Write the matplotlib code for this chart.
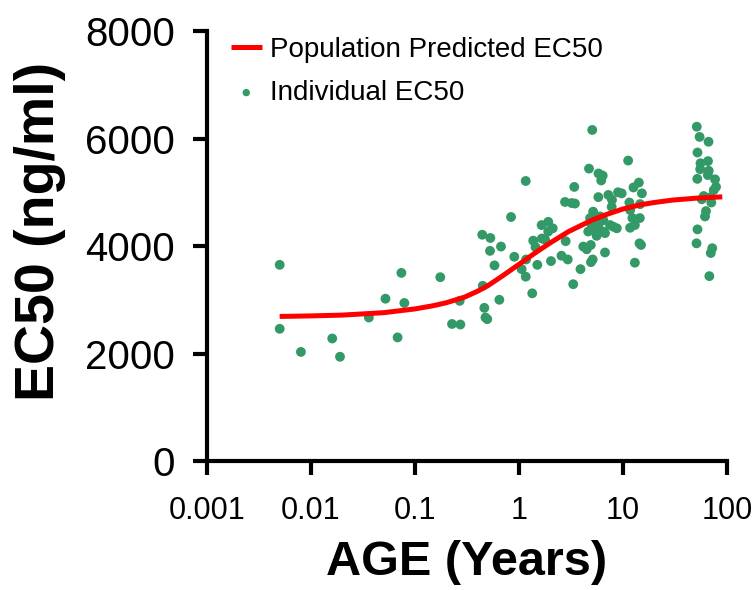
import matplotlib
matplotlib.use("Agg")
import matplotlib.pyplot as plt

plt.rcParams['font.family'] = ['Liberation Sans', 'DejaVu Sans']

# individual EC50 estimates (age in years, EC50 in ng/ml)
age = [0.0050, 0.0050, 0.0080, 0.0160, 0.0190, 0.036, 0.052, 0.074, 0.068, 0.079,
       0.175, 0.269, 0.227, 0.273,
       0.443, 0.530, 0.526, 0.581, 0.448, 0.464, 0.476, 0.495, 0.671, 0.647,
       0.838, 0.901, 1.17, 1.06, 1.16, 1.16, 1.34, 1.50, 1.37, 1.44,
       1.65, 1.91, 2.11, 1.91, 1.66, 1.78, 2.03, 2.56, 2.94, 2.81,
       2.77, 3.21, 3.45, 3.40, 3.90, 3.32, 4.15, 4.48, 4.90, 5.11, 4.92, 6.71,
       5.06, 4.71, 5.81, 6.38, 6.17, 5.79, 7.23, 7.84, 8.95, 9.71, 7.78,
       5.16, 4.82, 5.38, 6.01, 6.47, 5.00, 5.79, 4.63, 5.38, 6.47, 5.58, 6.71,
       7.50, 8.07, 8.71,
       11.2, 12.6, 14.2, 15.2, 11.5, 14.6, 11.7, 12.3, 14.5, 11.7, 13.0, 14.4,
       14.9, 13.0,
       51.2, 54.5, 66.4, 52.0, 55.6, 65.6, 55.2, 66.7, 65.4, 51.8, 76.7, 78.4,
       74.5, 57.2, 59.7, 69.8, 70.6, 62.8, 61.4, 52.0, 50.9, 72.1, 69.8, 67.6]
ec50 = [3650, 2460, 2030, 2280, 1940, 2670, 3020, 3500, 2300, 2940,
        3420, 2980, 2550, 2540,
        4210, 4150, 3910, 3640, 3260, 2850, 2670, 2640, 3990, 3000,
        4540, 3800, 3750, 3570, 3430, 5210, 3120, 3650, 4100, 3980,
        4390, 4450, 4330, 4270, 4140, 4120, 3720, 3820, 3750, 4090,
        4820, 4800, 4790, 5100, 3570, 3290, 3990, 3940, 4020, 3750, 3700, 3880,
        6160, 5440, 5350, 5310, 5220, 4910, 4950, 4860, 5000, 4980, 4730,
        4640, 4520, 4520, 4550, 4480, 4390, 4390, 4270, 4300, 4270, 4190, 4240,
        4390, 4360, 4330,
        5590, 5090, 5180, 4980, 4810, 4780, 4670, 4520, 4520, 4340, 4390, 4050,
        4020, 3690,
        6220, 6030, 5940, 5740, 5540, 5580, 5430, 5400, 5320, 5250, 5240, 5100,
        5040, 4870, 4930, 4910, 4810, 4650, 4550, 4310, 4050, 3960, 3870, 3440]

# population predicted curve
pred_age = [0.005, 0.01, 0.02, 0.05, 0.1, 0.15, 0.2, 0.3, 0.4, 0.5, 0.7, 1, 1.5,
            2, 3, 5, 7, 10, 15, 20, 30, 50, 90]
pred_ec50 = [2690, 2700, 2715, 2760, 2830, 2890, 2945, 3050, 3160, 3260, 3450,
             3660, 3900, 4060, 4270, 4480, 4590, 4690, 4770, 4810, 4855, 4890, 4915]

fig = plt.figure(figsize=(7.53, 5.90), dpi=100)
ax = fig.add_axes([0.2749, 0.2186, 0.6906, 0.7288])

ax.plot(pred_age, pred_ec50, color='#ff0000', lw=3.6, label='Population Predicted EC50',
        solid_capstyle='butt', zorder=3)
ax.scatter(age, ec50, s=50, color='#339966', edgecolors='none', label='Individual EC50',
           zorder=2)

ax.set_xscale('log')
ax.set_xlim(0.001, 100)
ax.set_ylim(0, 8000)
ax.set_xticks([0.001, 0.01, 0.1, 1, 10, 100])
ax.set_xticklabels(['0.001', '0.01', '0.1', '1', '10', '100'])
ax.minorticks_off()
ax.set_yticks([0, 2000, 4000, 6000, 8000])

for s in ['top', 'right']:
    ax.spines[s].set_visible(False)
for s in ['left', 'bottom']:
    ax.spines[s].set_linewidth(3)
ax.tick_params(axis='both', width=3, length=10)
ax.tick_params(axis='x', labelsize=22, pad=15)
ax.tick_params(axis='y', labelsize=29, pad=13)

ax.set_xlabel('AGE (Years)', fontsize=35, fontweight='bold', labelpad=10)
ax.set_ylabel('EC50 (ng/ml)', fontsize=40, fontweight='bold')
ax.yaxis.set_label_coords(-0.272, 0.535)

leg = ax.legend(loc='upper left', bbox_to_anchor=(-0.002, 1.045), frameon=False,
                fontsize=20, handlelength=1.1, handletextpad=0.3, labelspacing=0.62,
                markerscale=0.75)

fig.savefig('out.png', dpi=100)
